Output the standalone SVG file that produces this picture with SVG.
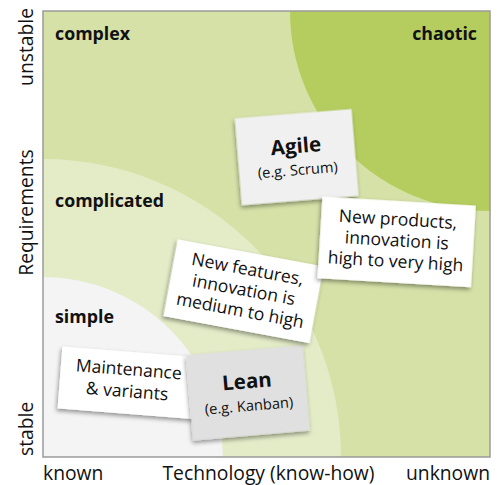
<svg xmlns="http://www.w3.org/2000/svg" width="499" height="485" viewBox="0 0 499 485">
<defs>
<clipPath id="plot"><rect x="43" y="11" width="447" height="446"/></clipPath>
<filter id="sh" x="-20%" y="-20%" width="140%" height="150%">
<feDropShadow dx="-1" dy="2.5" stdDeviation="2" flood-color="#000" flood-opacity="0.4"/>
</filter>
</defs>
<style>
.t{font-family:'Open Sans','Noto Sans','Liberation Sans',sans-serif;fill:#111}
.zone{font-size:17.8px;font-weight:bold}
.axis{font-size:19.3px}
.card{font-size:17.5px;text-anchor:middle}
.title{font-size:20.5px;font-weight:bold;text-anchor:middle}
.sub{font-size:14.7px;text-anchor:middle}
.box{filter:url(#sh)}
</style>
<rect width="499" height="485" fill="#ffffff"/>
<g id="plot-area" clip-path="url(#plot)">
<rect x="43" y="11" width="447" height="446" fill="#d5e1a7"/>
<circle cx="490" cy="11" r="200" fill="#b5cd5f"/>
<circle cx="43" cy="457" r="298" fill="#e3ebc7"/>
<circle cx="43" cy="457" r="180" fill="#f4f4f4"/>
</g>
<rect x="43" y="11" width="447" height="446" fill="none" stroke="#9a9a9a" stroke-width="1.5"/>
<g id="zone-labels" class="t zone">
<text x="55" y="40">complex</text>
<text x="477" y="40" text-anchor="end">chaotic</text>
<text x="55" y="207">complicated</text>
<text x="55" y="323">simple</text>
</g>
<g id="axes" class="t axis">
<text x="43" y="480">known</text>
<text x="268.5" y="480" text-anchor="middle">Technology (know-how)</text>
<text x="490" y="480" text-anchor="end">unknown</text>
<text transform="translate(33,8) rotate(-90)" text-anchor="end">unstable</text>
<text transform="translate(33,212.5) rotate(-90)" text-anchor="middle">Requirements</text>
<text transform="translate(33,456) rotate(-90)" text-anchor="start">stable</text>
</g>
<g id="connectors"></g>
<g id="card-maintenance" transform="translate(127.8,382.8) rotate(4.5)">
<rect class="box" x="-68" y="-31" width="136" height="62" fill="#ffffff"/>
<text class="t card" x="0" y="-7.5">Maintenance</text>
<text class="t card" x="0" y="14.5">&amp; variants</text>
</g>
<g id="card-lean" transform="translate(247.9,392.9) rotate(-4.9)">
<rect class="box" x="-58.5" y="-42.7" width="117" height="85.4" fill="#e0e0e0"/>
<text class="t title" x="0" y="-4.5">Lean</text>
<text class="t sub" x="0" y="18">(e.g. Kanban)</text>
</g>
<g id="card-agile" transform="translate(296.7,157.1) rotate(-4.6)">
<rect class="box" x="-58.5" y="-43.5" width="117" height="87" fill="#f0f0f0"/>
<text class="t title" x="0" y="-4">Agile</text>
<text class="t sub" x="0" y="18">(e.g. Scrum)</text>
</g>
<g id="card-new-features" transform="translate(243.6,291.25) rotate(10.5)">
<rect class="box" x="-74.2" y="-39" width="148.4" height="78" fill="#ffffff"/>
<text class="t card" x="0" y="-16.5">New features,</text>
<text class="t card" x="0" y="4.5">innovation is</text>
<text class="t card" x="0" y="25.5">medium to high</text>
</g>
<g id="card-new-products" transform="translate(396.7,241.85) rotate(3.4)">
<rect class="box" x="-76.8" y="-40.8" width="153.6" height="81.7" fill="#ffffff"/>
<text class="t card" x="0" y="-16.5">New products,</text>
<text class="t card" x="0" y="4.5">innovation is</text>
<text class="t card" x="0" y="25.5">high to very high</text>
</g>
</svg>
